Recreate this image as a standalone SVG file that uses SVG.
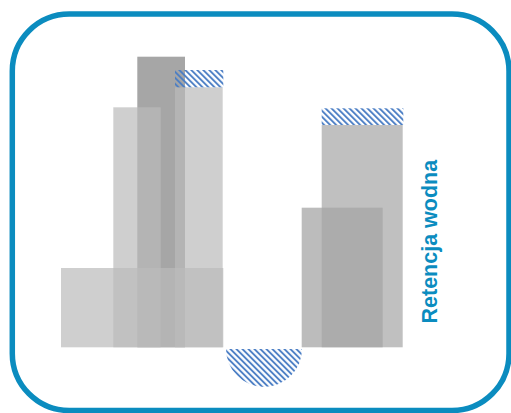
<svg xmlns="http://www.w3.org/2000/svg" width="511" height="413" viewBox="0 0 511 413">
  <defs>
    <pattern id="hatch" patternUnits="userSpaceOnUse" width="4.24" height="10" patternTransform="rotate(-45)">
      <rect x="0" y="0" width="1.9" height="10" fill="#4a7dc4"/>
    </pattern>
  </defs>
  <style>
    .light { fill: #bbbbbb; fill-opacity: 0.7; }
    .dark { fill: #a6a6a6; }
    .mid { fill: #c0c0c0; }
    .over { fill: #a6a6a6; fill-opacity: 0.75; }
    .hatch { fill: url(#hatch); }
    .label { font-family: "Liberation Sans", Arial, sans-serif; font-weight: bold; font-size: 21.5px; fill: #0b8cbf; }
  </style>
  <rect id="frame" x="12.3" y="14" width="496.7" height="396.5" rx="57" ry="57" fill="#ffffff" stroke="#0b8cbf" stroke-width="5.5"/>
  <g id="left-cluster">
    <rect id="bar-b" class="dark" x="137.3" y="56.7" width="47.7" height="290.6"/>
    <rect id="bar-a" class="light" x="113.3" y="107.3" width="47.4" height="240"/>
    <rect id="bar-c" class="light" x="175" y="87.3" width="47.7" height="260"/>
    <rect id="hatch-c" class="hatch" x="175" y="70" width="48.3" height="17.3"/>
    <rect id="base" class="light" x="61" y="268" width="162.3" height="79.3"/>
  </g>
  <g id="basin">
    <path id="hatch-basin" class="hatch" d="M226,349 H302 A38,38 0 0 1 226,349 Z"/>
  </g>
  <g id="right-cluster">
    <rect id="bar-d" class="mid" x="321.7" y="125" width="81" height="222.3"/>
    <rect id="hatch-d" class="hatch" x="321.7" y="108.3" width="81.6" height="16.7"/>
    <rect id="bar-e" class="over" x="301.7" y="207.7" width="81" height="139.6"/>
  </g>
  <g id="label">
    <text class="label" transform="translate(437,323.5) rotate(-90)" x="0" y="0">Retencja wodna</text>
  </g>
  <g id="connectors"/>
</svg>
